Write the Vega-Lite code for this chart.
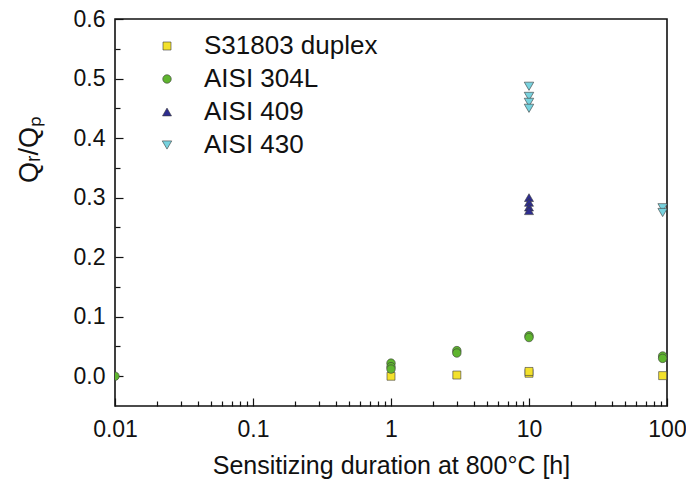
{
  "$schema": "https://vega.github.io/schema/vega-lite/v6.json",
  "autosize": "none",
  "width": 552,
  "height": 387,
  "padding": {"left": 115, "top": 19, "right": 19, "bottom": 80},
  "background": "white",
  "config": {
    "view": {"stroke": "#111", "strokeWidth": 1.6},
    "font": "Liberation Sans",
    "axis": {"grid": false, "labelFont": "Liberation Sans", "titleFont": "Liberation Sans", "labelColor": "#111", "titleColor": "#111", "domainColor": "#111", "tickColor": "#111", "titleFontWeight": "normal"}
  },
  "data": {"values": [
    {"t": 1, "q": 0.0, "s": "S31803 duplex"},
    {"t": 3, "q": 0.002, "s": "S31803 duplex"},
    {"t": 10, "q": 0.005, "s": "S31803 duplex"},
    {"t": 10, "q": 0.008, "s": "S31803 duplex"},
    {"t": 93, "q": 0.001, "s": "S31803 duplex"},
    {"t": 0.01, "q": 0.0, "s": "AISI 304L"},
    {"t": 1, "q": 0.022, "s": "AISI 304L"},
    {"t": 1, "q": 0.016, "s": "AISI 304L"},
    {"t": 1, "q": 0.012, "s": "AISI 304L"},
    {"t": 3, "q": 0.043, "s": "AISI 304L"},
    {"t": 3, "q": 0.039, "s": "AISI 304L"},
    {"t": 10, "q": 0.068, "s": "AISI 304L"},
    {"t": 10, "q": 0.065, "s": "AISI 304L"},
    {"t": 93, "q": 0.034, "s": "AISI 304L"},
    {"t": 93, "q": 0.03, "s": "AISI 304L"},
    {"t": 10, "q": 0.300, "s": "AISI 409"},
    {"t": 10, "q": 0.292, "s": "AISI 409"},
    {"t": 10, "q": 0.284, "s": "AISI 409"},
    {"t": 10, "q": 0.278, "s": "AISI 409"},
    {"t": 10, "q": 0.487, "s": "AISI 430"},
    {"t": 10, "q": 0.470, "s": "AISI 430"},
    {"t": 10, "q": 0.460, "s": "AISI 430"},
    {"t": 10, "q": 0.450, "s": "AISI 430"},
    {"t": 93, "q": 0.283, "s": "AISI 430"},
    {"t": 93, "q": 0.275, "s": "AISI 430"}
  ]},
  "resolve": {"axis": {"x": "independent", "y": "independent"}},
  "layer": [
    {
      "mark": {"type": "point", "opacity": 0},
      "encoding": {
        "x": {"field": "t", "type": "quantitative", "scale": {"type": "log", "domain": [0.01, 100], "nice": false},
          "axis": {"orient": "bottom", "offset": -5, "values": [0.02,0.03,0.04,0.05,0.06,0.07,0.08,0.09,0.2,0.3,0.4,0.5,0.6,0.7,0.8,0.9,2,3,4,5,6,7,8,9,20,30,40,50,60,70,80,90], "labels": false, "domain": false, "title": null, "tickSize": 5, "tickWidth": 1.2}},
        "y": {"field": "q", "type": "quantitative", "scale": {"domain": [-0.05, 0.6], "nice": false, "zero": false},
          "axis": {"orient": "left", "offset": -5, "values": [0.05,0.15,0.25,0.35,0.45,0.55], "labels": false, "domain": false, "title": null, "tickSize": 5, "tickWidth": 1.2}}
      }
    },
    {
      "mark": {"type": "point", "filled": true, "clip": true, "stroke": "#3a3a3a", "strokeWidth": 0.6, "opacity": 1},
      "encoding": {
        "x": {"field": "t", "type": "quantitative", "scale": {"type": "log", "domain": [0.01, 100], "nice": false},
          "axis": {"orient": "bottom", "offset": -8, "values": [0.01, 0.1, 1, 10, 100], "format": "~g", "tickSize": 8, "tickWidth": 1.2, "domain": false, "labelFontSize": 23, "labelPadding": 12, "labelFlush": false, "title": "Sensitizing duration at 800°C [h]", "titleFontSize": 25, "titlePadding": 12}},
        "y": {"field": "q", "type": "quantitative", "scale": {"domain": [-0.05, 0.6], "nice": false, "zero": false},
          "axis": {"orient": "left", "offset": -8, "values": [0, 0.1, 0.2, 0.3, 0.4, 0.5, 0.6], "format": ".1f", "tickSize": 8, "tickWidth": 1.2, "domain": false, "labelFontSize": 23, "labelPadding": 10, "labelFlush": false, "title": "Qᵣ/Qₚ", "titleFontSize": 27, "titlePadding": 30, "titleY": 130}},
        "shape": {"field": "s", "type": "nominal", "scale": {"domain": ["S31803 duplex", "AISI 304L", "AISI 409", "AISI 430"], "range": ["square", "circle", "triangle-up", "triangle-down"]},
          "legend": {"title": null, "orient": "none", "legendX": 39, "legendY": 14, "labelFontSize": 26, "labelLimit": 300, "labelColor": "#111", "rowPadding": 7, "labelOffset": 24, "symbolStrokeColor": "#3a3a3a", "symbolStrokeWidth": 0.6}},
        "fill": {"field": "s", "type": "nominal", "scale": {"domain": ["S31803 duplex", "AISI 304L", "AISI 409", "AISI 430"], "range": ["#f3e12b", "#5fb52f", "#2e2d8f", "#78d2de"]}},
        "size": {"field": "s", "type": "nominal", "scale": {"domain": ["S31803 duplex", "AISI 304L", "AISI 409", "AISI 430"], "range": [64, 90, 110, 110]}}
      }
    }
  ]
}
